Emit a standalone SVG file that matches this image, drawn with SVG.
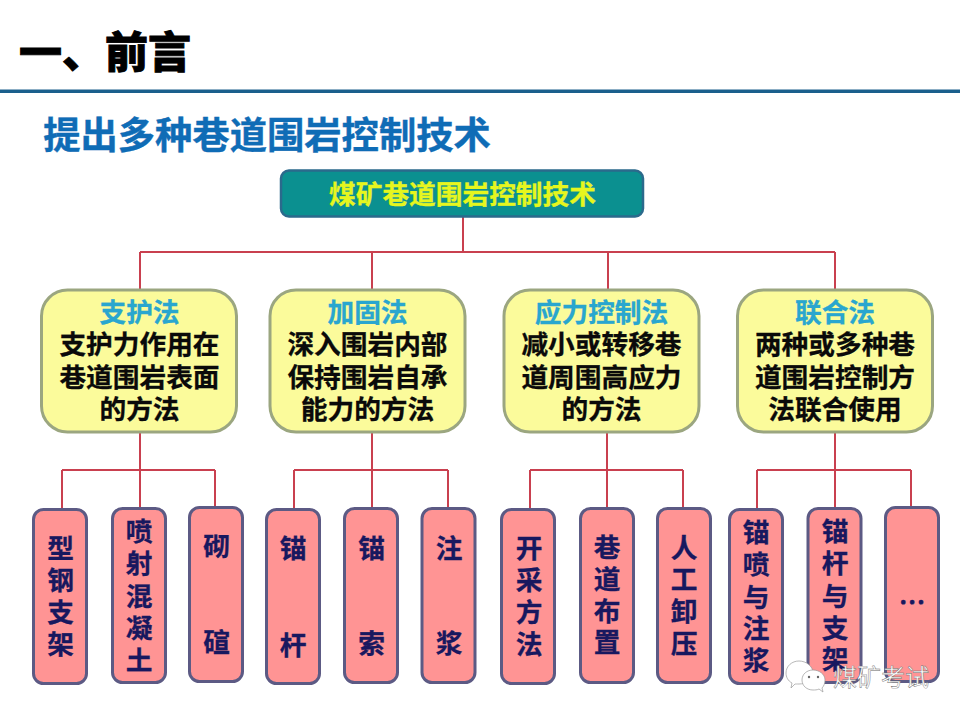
<svg xmlns="http://www.w3.org/2000/svg" width="960" height="720" viewBox="0 0 960 720">
<style>
text{font-family:"Noto Sans CJK SC","Liberation Sans",sans-serif;font-weight:700;text-anchor:middle}
.y{fill:#fbfb9b;stroke:#9ba680;stroke-width:3}
.p{fill:#ff9494;stroke:#5c5a84;stroke-width:3}
.h{fill:#29a6cf}
.b{font-size:26.700px;fill:#0a0a0a;stroke:#0a0a0a;stroke-width:.3}
.v{font-size:26.700px;fill:#18185f;stroke:#18185f;stroke-width:.3}
.c{fill:none;stroke:#c9404f;stroke-width:2}
.w{fill:#fff;stroke:#999;stroke-width:.7}
</style>
<rect width="960" height="720" fill="#fff"/>
<g id="header">
<text x="105" y="68" font-size="43" fill="#000" stroke="#000" stroke-width=".9" style="font-weight:900">一、前言</text>
<rect x="0" y="89.500" width="960" height="3.500" fill="#1a5f8c"/>
<text x="267" y="149" font-size="37.300" fill="#0f6cb6" stroke="#0f6cb6" stroke-width=".4">提出多种巷道围岩控制技术</text>
</g>
<g id="connectors">
<path class="c" d="M463 216V252M140 252H835M140 252V290M372 252V290M608 252V290M835 252V290"/>
<path class="c" d="M140 432V509M62 470H215M62 470V509M215 470V507"/>
<path class="c" d="M372 432V508M294 470H448M294 470V509M448 470V508"/>
<path class="c" d="M607 432V508M530 470H683M530 470V509M683 470V508"/>
<path class="c" d="M835 432V508M757 470H911M757 470V509M911 470V507"/>
</g>
<g id="root">
<rect x="281" y="170.500" width="362" height="46" rx="8" fill="#0b9090" stroke="#2b6a8c" stroke-width="2.500"/>
<text x="462.500" y="203.500" font-size="26.700" fill="#e6f61e" stroke="#e6f61e" stroke-width=".3">煤矿巷道围岩控制技术</text>
</g>
<g id="m1">
<rect class="y" x="41.500" y="290" width="195" height="142" rx="26"/>
<text class="b"><tspan class="h" stroke="#29a6cf" x="139.500" y="322">支护法</tspan><tspan x="139.500" y="354">支护力作用在</tspan><tspan x="139.500" y="387">巷道围岩表面</tspan><tspan x="139.500" y="419">的方法</tspan></text>
</g>
<g id="m2">
<rect class="y" x="270" y="290" width="195" height="142" rx="26"/>
<text class="b"><tspan class="h" stroke="#29a6cf" x="367.500" y="322">加固法</tspan><tspan x="367.500" y="354">深入围岩内部</tspan><tspan x="367.500" y="387">保持围岩自承</tspan><tspan x="367.500" y="419">能力的方法</tspan></text>
</g>
<g id="m3">
<rect class="y" x="504" y="290" width="195" height="142" rx="26"/>
<text class="b"><tspan class="h" stroke="#29a6cf" x="601.500" y="322">应力控制法</tspan><tspan x="601.500" y="354">减小或转移巷</tspan><tspan x="601.500" y="387">道周围高应力</tspan><tspan x="601.500" y="419">的方法</tspan></text>
</g>
<g id="m4">
<rect class="y" x="737.500" y="290" width="195" height="142" rx="26"/>
<text class="b"><tspan class="h" stroke="#29a6cf" x="835" y="322">联合法</tspan><tspan x="835" y="354">两种或多种巷</tspan><tspan x="835" y="387">道围岩控制方</tspan><tspan x="835" y="419">法联合使用</tspan></text>
</g>
<g id="n1"><rect class="p" x="33.500" y="509.500" width="53" height="174" rx="10"/><text class="v"><tspan x="60.500" y="558">型</tspan><tspan x="60.500" y="590">钢</tspan><tspan x="60.500" y="622">支</tspan><tspan x="60.500" y="654">架</tspan></text></g>
<g id="n2"><rect class="p" x="112.500" y="508.500" width="53" height="174" rx="10"/><text class="v"><tspan x="139" y="541">喷</tspan><tspan x="139" y="573">射</tspan><tspan x="139" y="606">混</tspan><tspan x="139" y="638">凝</tspan><tspan x="139" y="670">土</tspan></text></g>
<g id="n3"><rect class="p" x="189.500" y="507.500" width="53" height="174" rx="10"/><text class="v"><tspan x="216.500" y="556">砌</tspan><tspan x="216.500" y="652">碹</tspan></text></g>
<g id="n4"><rect class="p" x="266.500" y="509.500" width="53" height="174" rx="10"/><text class="v"><tspan x="293" y="558">锚</tspan><tspan x="293" y="655">杆</tspan></text></g>
<g id="n5"><rect class="p" x="344.500" y="508.500" width="53" height="174" rx="10"/><text class="v"><tspan x="371.500" y="558">锚</tspan><tspan x="371.500" y="653">索</tspan></text></g>
<g id="n6"><rect class="p" x="422" y="508.500" width="53" height="174" rx="10"/><text class="v"><tspan x="449" y="558">注</tspan><tspan x="449" y="653">浆</tspan></text></g>
<g id="n7"><rect class="p" x="501.500" y="509.500" width="53" height="174" rx="10"/><text class="v"><tspan x="529" y="558">开</tspan><tspan x="529" y="590">采</tspan><tspan x="529" y="622">方</tspan><tspan x="529" y="654">法</tspan></text></g>
<g id="n8"><rect class="p" x="580.500" y="508.500" width="53" height="174" rx="10"/><text class="v"><tspan x="607" y="557">巷</tspan><tspan x="607" y="589">道</tspan><tspan x="607" y="621">布</tspan><tspan x="607" y="652">置</tspan></text></g>
<g id="n9"><rect class="p" x="657.500" y="508.500" width="53" height="174" rx="10"/><text class="v"><tspan x="684" y="557">人</tspan><tspan x="684" y="589">工</tspan><tspan x="684" y="621">卸</tspan><tspan x="684" y="653">压</tspan></text></g>
<g id="n10"><rect class="p" x="729.500" y="509.500" width="53" height="174" rx="10"/><text class="v"><tspan x="756" y="542">锚</tspan><tspan x="756" y="574">喷</tspan><tspan x="756" y="607">与</tspan><tspan x="756" y="638">注</tspan><tspan x="756" y="670">浆</tspan></text></g>
<g id="n11"><rect class="p" x="808" y="508.500" width="53" height="174" rx="10"/><text class="v"><tspan x="835" y="541">锚</tspan><tspan x="835" y="573">杆</tspan><tspan x="835" y="606">与</tspan><tspan x="835" y="638">支</tspan><tspan x="835" y="669">架</tspan></text></g>
<g id="n12"><rect class="p" x="885.500" y="507.500" width="53" height="174" rx="10"/><text class="v" x="912" y="612">…</text></g>
<g id="watermark">
<path class="w" d="M791 688l1-5c-4-2-6-6-6-10 0-7 6-12 13-12s14 5 14 12-7 11-14 11c-2 0-3 0-4 0z"/>
<path class="w" d="M823 692l-4-3c-2 1-4 1-6 1-6 0-11-4-11-10s5-10 11-10 12 4 12 10c0 3-1 6-3 8z"/>
<circle cx="809" cy="677" r="1.200" fill="#666"/><circle cx="818" cy="677" r="1.200" fill="#666"/>
<text x="881" y="686" font-size="24" fill="#fff" stroke="#666" stroke-width=".4" style="font-weight:400">煤矿考试</text>
</g>
</svg>
